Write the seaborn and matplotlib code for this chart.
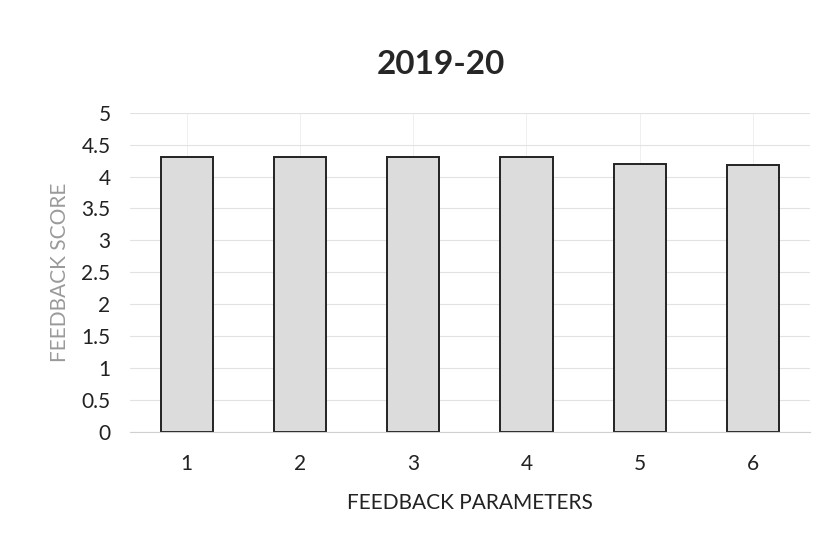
import pandas as pd
import seaborn as sns
import matplotlib.pyplot as plt

parameters = ["1", "2", "3", "4", "5", "6"]
scores = [4.31, 4.30, 4.31, 4.30, 4.19, 4.18]
y_ticks = [0, 0.5, 1, 1.5, 2, 2.5, 3, 3.5, 4, 4.5, 5]

df = pd.DataFrame({"parameter": parameters, "score": scores})

sns.set_style("white")
plt.rcParams["font.family"] = ["Lato", "DejaVu Sans"]

fig = plt.figure(figsize=(8.39, 5.5), dpi=100)
ax = fig.add_axes([0.155, 0.215, 0.81, 0.58])

sns.barplot(data=df, x="parameter", y="score", ax=ax, color="#dcdcdc",
            edgecolor="#222222", linewidth=1.4, width=0.46, saturation=1)

ax.set_ylim(0, 5)
ax.set_yticks(y_ticks)
ax.set_yticklabels([f"{t:g}" for t in y_ticks])
ax.yaxis.grid(True, color="#e2e2e2", linewidth=0.8)
ax.xaxis.grid(True, color="#ececec", linewidth=0.6)
ax.set_axisbelow(True)
for side in ["top", "right", "left"]:
    ax.spines[side].set_visible(False)
ax.spines["bottom"].set_color("#d0d0d0")
ax.tick_params(axis="both", length=0, labelsize=15, colors="#222222", pad=14)
ax.tick_params(axis="x", pad=16)

ax.set_xlabel("FEEDBACK PARAMETERS", fontsize=15, color="#222222", labelpad=14)
ax.set_ylabel("FEEDBACK SCORE", fontsize=15, color="#9a9a9a", labelpad=8)
fig.suptitle("2019-20", fontsize=24, fontweight="bold", x=0.525, y=0.91)

fig.savefig("out.png", dpi=100)
